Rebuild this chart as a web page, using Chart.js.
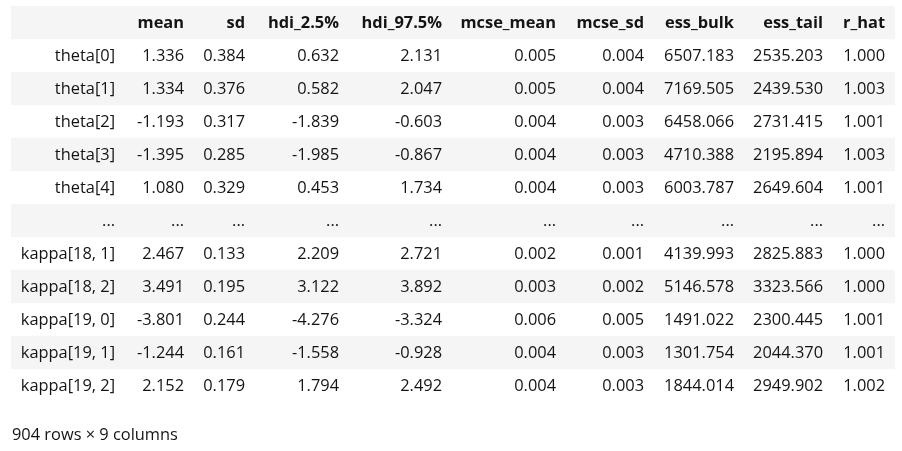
<!DOCTYPE html>
<html>
<head>
<meta charset="utf-8">
<script src="https://cdn.jsdelivr.net/npm/chart.js@4"></script>
<style>
  html, body { margin: 0; padding: 0; background: #ffffff; }
  #wrap { width: 902px; height: 451px; position: relative; }
</style>
</head>
<body>
<div id="wrap"><canvas id="c"></canvas></div>
<script>
// ---- data ----
const columns = ['mean', 'sd', 'hdi_2.5%', 'hdi_97.5%', 'mcse_mean', 'mcse_sd', 'ess_bulk', 'ess_tail', 'r_hat'];
const rowLabels = ['theta[0]', 'theta[1]', 'theta[2]', 'theta[3]', 'theta[4]', '...',
                   'kappa[18, 1]', 'kappa[18, 2]', 'kappa[19, 0]', 'kappa[19, 1]', 'kappa[19, 2]'];
const mean     = [1.336, 1.334, -1.193, -1.395, 1.080, null, 2.467, 3.491, -3.801, -1.244, 2.152];
const sd       = [0.384, 0.376, 0.317, 0.285, 0.329, null, 0.133, 0.195, 0.244, 0.161, 0.179];
const hdi_low  = [0.632, 0.582, -1.839, -1.985, 0.453, null, 2.209, 3.122, -4.276, -1.558, 1.794];
const hdi_high = [2.131, 2.047, -0.603, -0.867, 1.734, null, 2.721, 3.892, -3.324, -0.928, 2.492];
const mcse_mean = [0.005, 0.005, 0.004, 0.004, 0.004, null, 0.002, 0.003, 0.006, 0.004, 0.004];
const mcse_sd  = [0.004, 0.004, 0.003, 0.003, 0.003, null, 0.001, 0.002, 0.005, 0.003, 0.003];
const ess_bulk = [6507.183, 7169.505, 6458.066, 4710.388, 6003.787, null, 4139.993, 5146.578, 1491.022, 1301.754, 1844.014];
const ess_tail = [2535.203, 2439.530, 2731.415, 2195.894, 2649.604, null, 2825.883, 3323.566, 2300.445, 2044.370, 2949.902];
const r_hat    = [1.000, 1.003, 1.001, 1.003, 1.001, null, 1.000, 1.000, 1.001, 1.001, 1.002];
const footerText = '904 rows \u00d7 9 columns';

// ---- layout / style ----
const seriesList = [mean, sd, hdi_low, hdi_high, mcse_mean, mcse_sd, ess_bulk, ess_tail, r_hat];
const colWidths = [114, 69, 61, 94, 103, 114, 88, 90, 89, 62]; // index column + 9 data columns
const cellPadRight = 10;
const tableWidth = colWidths.reduce((a, b) => a + b, 0);
const boundaries = [];
colWidths.reduce((acc, w) => { boundaries.push(acc + w); return acc + w; }, 0);
const FONT_FAMILY = '"Open Sans", "Noto Sans", sans-serif';
const FONT_SIZE = 16.4;
const TEXT_COLOR = '#141414';
const STRIPE = '#f5f5f5';

const yLabels = [''].concat(rowLabels); // header row first
const stripeData = yLabels.map((_, i) => (i % 2 === 0 ? [0, tableWidth] : null));

const fmt = v => (v === null ? '...' : v.toFixed(3));

const tablePlugin = {
  id: 'tableText',
  afterDatasetsDraw(chart) {
    const ctx = chart.ctx;
    const xs = chart.scales.x, ys = chart.scales.y;
    ctx.save();
    ctx.fillStyle = TEXT_COLOR;
    ctx.textAlign = 'right';
    ctx.textBaseline = 'alphabetic';
    const off = 5.5;
    // header
    ctx.font = 'bold ' + FONT_SIZE + 'px ' + FONT_FAMILY;
    const yh = ys.getPixelForValue(0) + off;
    columns.forEach((name, c) => {
      ctx.fillText(name, xs.getPixelForValue(boundaries[c + 1]) - cellPadRight, yh);
    });
    // body
    ctx.font = FONT_SIZE + 'px ' + FONT_FAMILY;
    rowLabels.forEach((lab, r) => {
      const y = ys.getPixelForValue(r + 1) + off;
      ctx.fillText(lab, xs.getPixelForValue(boundaries[0]) - cellPadRight, y);
      seriesList.forEach((arr, c) => {
        ctx.fillText(fmt(arr[r]), xs.getPixelForValue(boundaries[c + 1]) - cellPadRight, y);
      });
    });
    // footer
    ctx.textAlign = 'left';
    ctx.fillText(footerText, chart.chartArea.left + 1, chart.chartArea.bottom + 38);
    ctx.restore();
  }
};

new Chart(document.getElementById('c'), {
  type: 'bar',
  data: {
    labels: yLabels,
    datasets: [{
      data: stripeData,
      backgroundColor: STRIPE,
      borderWidth: 0,
      barPercentage: 1.0,
      categoryPercentage: 1.0
    }]
  },
  options: {
    indexAxis: 'y',
    responsive: true,
    maintainAspectRatio: false,
    animation: false,
    events: [],
    layout: { padding: { left: 11, right: 7, top: 6, bottom: 49 } },
    plugins: { legend: { display: false }, tooltip: { enabled: false }, title: { display: false } },
    scales: {
      x: { type: 'linear', min: 0, max: tableWidth, display: false },
      y: { type: 'category', display: false, offset: true }
    }
  },
  plugins: [tablePlugin]
});
</script>
</body>
</html>
